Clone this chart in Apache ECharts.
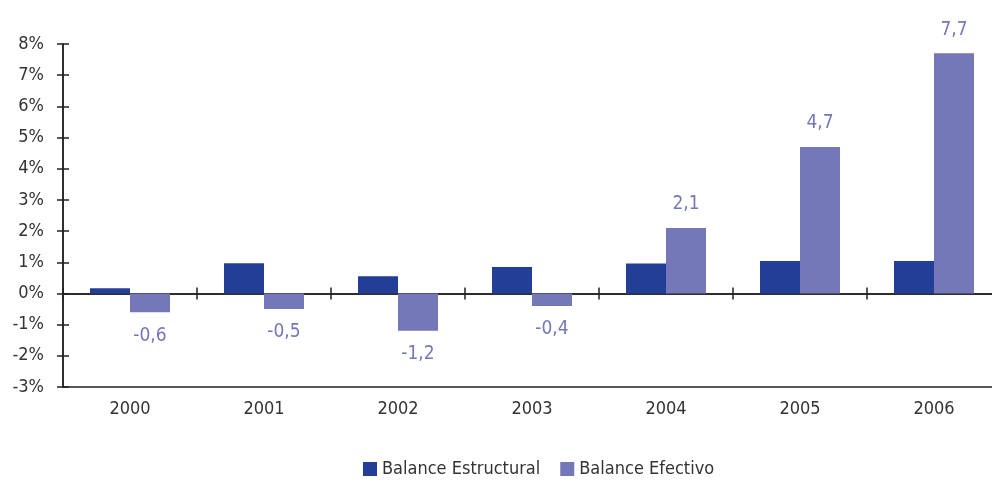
<!DOCTYPE html>
<html>
<head>
<meta charset="utf-8">
<script src="https://cdn.jsdelivr.net/npm/echarts@6/dist/echarts.min.js"></script>
<style>
  html, body { margin: 0; padding: 0; background: #fff; }
  #chart { width: 992px; height: 482px; }
</style>
</head>
<body>
<div id="chart"></div>
<script>
// data
var years = ['2000', '2001', '2002', '2003', '2004', '2005', '2006']
var balanceEstructural = [0.17, 0.97, 0.55, 0.85, 0.96, 1.04, 1.04]
var balanceEfectivo = [-0.6, -0.5, -1.2, -0.4, 2.1, 4.7, 7.7]
var seriesNames = ['Balance Estructural', 'Balance Efectivo']

var FONT = '"Liberation Sans Narrow", "DejaVu Sans Condensed", sans-serif'
var BLUE = '#233e97'
var PURPLE = '#7477b8'
var AXIS = '#222'

var chart = echarts.init(document.getElementById('chart'))

function commaLabel(p) {
  var v = typeof p.value === 'object' ? p.value.value : p.value
  return String(v).replace('.', ',')
}

// zero line axes (ticks drawn on both sides)
function zeroAxis(inside) {
  return {
    type: 'category',
    data: years,
    boundaryGap: true,
    axisLine: { show: true, onZero: true, lineStyle: { color: AXIS, width: 1.5 } },
    axisTick: { show: true, inside: inside, length: 6, lineStyle: { color: AXIS, width: 1.5 } },
    axisLabel: { show: false },
    splitLine: { show: false }
  }
}

function leftAxis(inside, showLabel) {
  return {
    type: 'value',
    position: 'left',
    min: -3,
    max: 8,
    interval: 1,
    axisLine: { show: true, lineStyle: { color: AXIS, width: 1.5 } },
    axisTick: { show: true, inside: inside, length: 6, lineStyle: { color: AXIS, width: 1.5 } },
    axisLabel: {
      show: showLabel,
      formatter: '{value}%',
      color: '#333',
      fontFamily: FONT,
      fontSize: 18,
      margin: 19
    },
    splitLine: { show: false }
  }
}

chart.setOption({
  animation: false,
  textStyle: { fontFamily: FONT },
  grid: {
    left: 63,
    top: 44,
    bottom: 95,
    width: 938,
    outerBoundsMode: 'none'
  },
  legend: {
    data: seriesNames,
    top: 460,
    left: 363,
    padding: 0,
    itemWidth: 14,
    itemHeight: 14,
    itemGap: 20,
    icon: 'rect',
    textStyle: { fontFamily: FONT, fontSize: 18, color: '#333' }
  },
  xAxis: [
    {
      type: 'category',
      data: years,
      position: 'bottom',
      axisLine: { show: true, onZero: false, lineStyle: { color: AXIS, width: 1.5 } },
      axisTick: { show: false },
      axisLabel: { color: '#333', fontFamily: FONT, fontSize: 18, margin: 13 },
      splitLine: { show: false }
    },
    zeroAxis(false),
    zeroAxis(true)
  ],
  yAxis: [
    leftAxis(false, true),
    leftAxis(true, false)
  ],
  series: [
    {
      name: seriesNames[0],
      type: 'bar',
      data: balanceEstructural,
      barWidth: 40,
      barGap: '0%',
      itemStyle: { color: BLUE }
    },
    {
      name: seriesNames[1],
      type: 'bar',
      // negative values get their label below the bar
      data: balanceEfectivo.map(function (v) {
        return v < 0 ? { value: v, label: { position: 'bottom' } } : v
      }),
      barWidth: 40,
      barGap: '0%',
      itemStyle: { color: PURPLE },
      label: {
        show: true,
        position: 'top',
        distance: 14,
        color: PURPLE,
        fontFamily: FONT,
        fontSize: 19,
        formatter: commaLabel
      }
    }
  ]
})
</script>
</body>
</html>
